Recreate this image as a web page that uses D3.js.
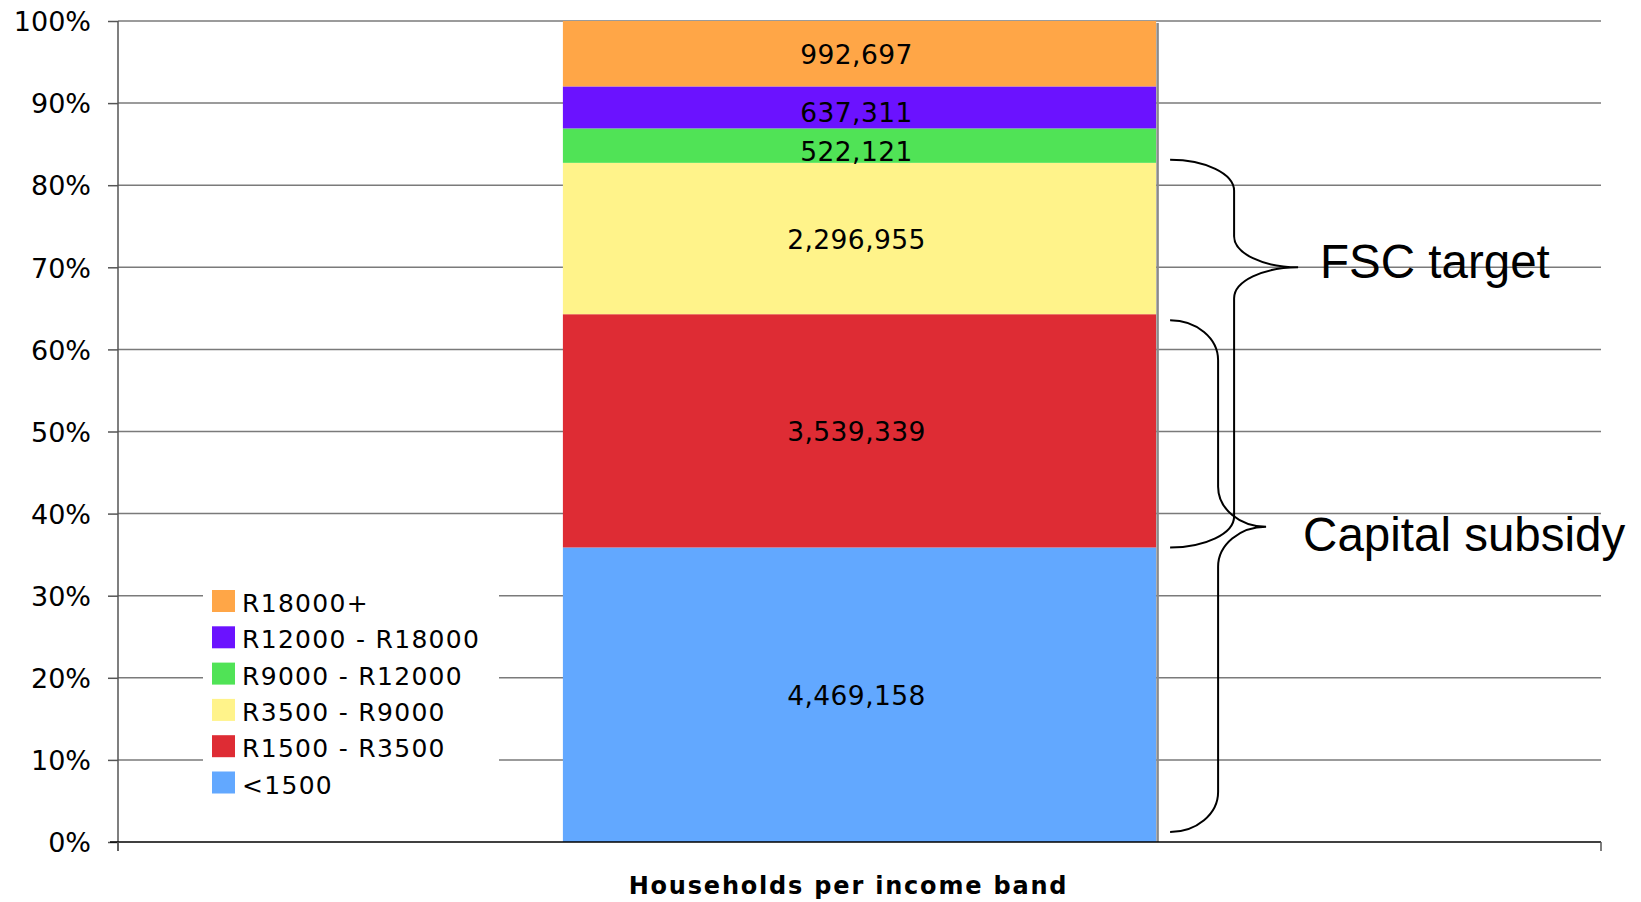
<!DOCTYPE html>
<html>
<head>
<meta charset="utf-8">
<script src="https://cdn.jsdelivr.net/npm/d3@7/dist/d3.min.js"></script>
<style>
  body { margin: 0; background: #fff; }
  svg { display: block; }
  .tick text { font-family: "DejaVu Sans", Verdana, sans-serif; font-size: 27px; fill: #000; }
</style>
</head>
<body>
<div id="chart"></div>
<script>
// Data

var category = 'Households per income band';
var bands = ['<1500', 'R1500 - R3500', 'R3500 - R9000', 'R9000 - R12000', 'R12000 - R18000', 'R18000+'];
var households = [4469158, 3539339, 2296955, 522121, 637311, 992697];
var bandColors = ['#62a8ff', '#de2c34', '#fff38a', '#50e356', '#6b12ff', '#ffa647'];

// brackets on the right: which bands they span, and where the point sits
var braceLabels = ['FSC target', 'Capital subsidy'];
var braceFrom = [1, 0];
var braceTo = [2, 1];
var braceTip = [0.70, 0.384];

// Dimensions

var width = 1641, height = 902;
var plot = { left: 118, right: 1601, top: 21, bottom: 842 };

var svg = d3.select('#chart').append('svg')
    .attr('width', width)
    .attr('height', height);

var x = d3.scaleBand()
    .domain([category])
    .range([plot.left, plot.right])
    .paddingInner(0.6)
    .paddingOuter(0.3);

var y = d3.scaleLinear()
    .domain([0, 1])
    .range([plot.bottom, plot.top]);

// stack the shares
var total = d3.sum(households);
var rows = [];
var acc = 0;
households.forEach(function(v, i) {
  rows.push({ band: bands[i], value: v, y0: acc / total, y1: (acc + v) / total, color: bandColors[i] });
  acc += v;
});

// Gridlines

var ticks = y.ticks(10);

svg.append('g')
  .selectAll('line')
  .data(ticks.filter(function(d) { return d > 0; }))
  .enter().append('line')
    .attr('x1', plot.left)
    .attr('x2', plot.right)
    .attr('y1', function(d) { return y(d); })
    .attr('y2', function(d) { return y(d); })
    .attr('stroke', '#7a7a7a')
    .attr('stroke-width', 1.5);

// Y axis

var yAxis = svg.append('g')
    .attr('transform', 'translate(' + plot.left + ',0)')
    .call(d3.axisLeft(y).ticks(10).tickFormat(d3.format('.0%')).tickSize(10).tickPadding(17));

yAxis.select('.domain').attr('stroke', '#555').attr('stroke-width', 1.5)
    .attr('d', 'M0,' + plot.top + 'V' + (plot.bottom + 9));
yAxis.selectAll('.tick line').attr('stroke', '#555').attr('stroke-width', 1.5);
yAxis.selectAll('.tick text').attr('dy', '0.36em');

// Bar segments

var bw = x.bandwidth();
var bx = x(category);

svg.append('g')
  .selectAll('rect')
  .data(rows)
  .enter().append('rect')
    .attr('x', bx)
    .attr('width', bw)
    .attr('y', function(d) { return y(d.y1); })
    .attr('height', function(d) { return y(d.y0) - y(d.y1); })
    .attr('fill', function(d) { return d.color; });

// gray edge on the right of the bar
svg.append('line')
    .attr('x1', bx + bw + 1.5)
    .attr('x2', bx + bw + 1.5)
    .attr('y1', y(1) + 2)
    .attr('y2', y(0))
    .attr('stroke', '#8a8a8a')
    .attr('stroke-width', 2.5);

// Segment labels

svg.append('g')
  .selectAll('text')
  .data(rows)
  .enter().append('text')
    .attr('x', bx + bw / 2 - 3)
    .attr('y', function(d) {
      var h = y(d.y0) - y(d.y1);
      var mid = (y(d.y0) + y(d.y1)) / 2;
      return mid + 10 + (h < 50 ? 5 : 0);
    })
    .attr('text-anchor', 'middle')
    .style('font-family', '"DejaVu Sans", Verdana, sans-serif')
    .style('font-size', '26.5px')
    .style('letter-spacing', '0.4px')
    .text(function(d) { return d3.format(',')(d.value); });

// X axis (baseline with end ticks)

var xAxis = svg.append('g');
xAxis.append('line')
    .attr('x1', plot.left - 8)
    .attr('x2', plot.right)
    .attr('y1', y(0))
    .attr('y2', y(0))
    .attr('stroke', '#000')
    .attr('stroke-width', 1.5);
xAxis.selectAll('.endtick')
  .data(x.range())
  .enter().append('line')
    .attr('class', 'endtick')
    .attr('x1', function(d) { return d; })
    .attr('x2', function(d) { return d; })
    .attr('y1', y(0))
    .attr('y2', y(0) + 9)
    .attr('stroke', '#555')
    .attr('stroke-width', 1.5);

svg.append('text')
    .attr('x', (plot.left + plot.right) / 2 - 11)
    .attr('y', 894)
    .attr('text-anchor', 'middle')
    .style('font-family', '"DejaVu Sans", Verdana, sans-serif')
    .style('font-weight', 'bold')
    .style('font-size', '24px')
    .style('letter-spacing', '1.8px')
    .text(category);

// Legend

var legend = svg.append('g')
    .attr('transform', 'translate(203,565)');

legend.append('rect')
    .attr('width', 296)
    .attr('height', 235)
    .attr('fill', '#fff');

var legendRows = rows.slice().reverse();

var item = legend.selectAll('.item')
  .data(legendRows)
  .enter().append('g')
    .attr('class', 'item')
    .attr('transform', function(d, i) { return 'translate(9,' + (25 + i * 36.3) + ')'; });

item.append('rect')
    .attr('width', 23)
    .attr('height', 22)
    .attr('fill', function(d) { return d.color; });

item.append('text')
    .attr('x', 30)
    .attr('y', 22)
    .style('font-family', '"DejaVu Sans", Verdana, sans-serif')
    .style('font-size', '25px')
    .style('letter-spacing', '1.3px')
    .text(function(d) { return d.band; });

// Curly brackets

function brace(x0, top, bottom, tip, w, r) {
  var k = 0.55;
  var s = x0 + w;
  return 'M' + x0 + ',' + top +
    'C' + (x0 + w * k) + ',' + top + ' ' + s + ',' + (top + r * (1 - k)) + ' ' + s + ',' + (top + r) +
    'L' + s + ',' + (tip - r) +
    'C' + s + ',' + (tip - r * (1 - k)) + ' ' + (s + w * (1 - k)) + ',' + tip + ' ' + (s + w) + ',' + tip +
    'C' + (s + w * (1 - k)) + ',' + tip + ' ' + s + ',' + (tip + r * (1 - k)) + ' ' + s + ',' + (tip + r) +
    'L' + s + ',' + (bottom - r) +
    'C' + s + ',' + (bottom - r * (1 - k)) + ' ' + (x0 + w * k) + ',' + bottom + ' ' + x0 + ',' + bottom;
}

var braceShape = [
  { w: 64, r: 31, inTop: -3, inBottom: 0, dx: 22, dy: 11 },
  { w: 48, r: 40, inTop: 6, inBottom: -10, dx: 37, dy: 24 }
];

braceLabels.forEach(function(label, i) {
  var s = braceShape[i];
  var x0 = bx + bw + 14;
  var top = y(rows[braceTo[i]].y1) + s.inTop;
  var bottom = y(rows[braceFrom[i]].y0) + s.inBottom;
  var tip = y(braceTip[i]);

  svg.append('path')
      .attr('d', brace(x0, top, bottom, tip, s.w, s.r))
      .attr('fill', 'none')
      .attr('stroke', '#000')
      .attr('stroke-width', 2);

  svg.append('text')
      .attr('x', x0 + 2 * s.w + s.dx)
      .attr('y', tip + s.dy)
      .style('font-family', '"Liberation Sans", Arial, sans-serif')
      .style('font-size', '47.5px')
      .text(label);
});
</script>
</body>
</html>
